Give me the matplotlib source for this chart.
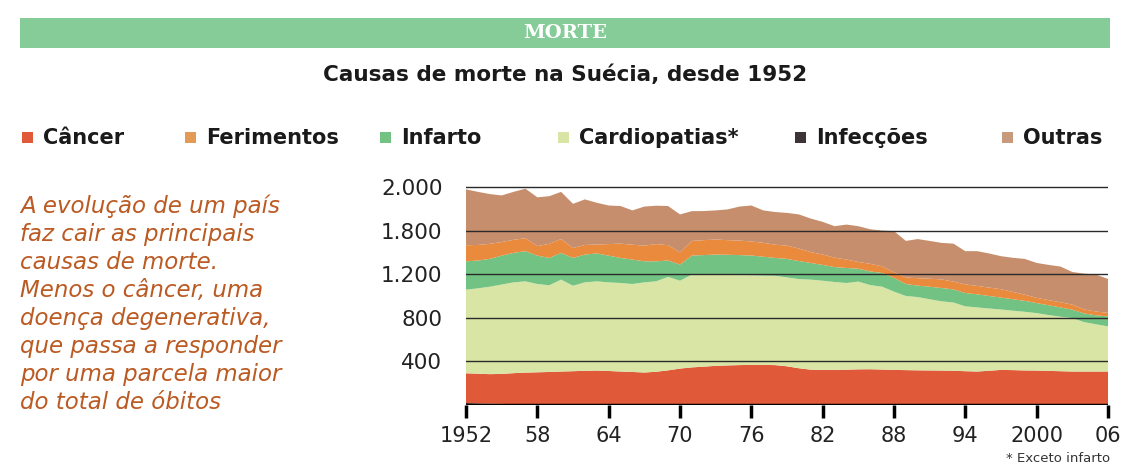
import matplotlib
matplotlib.use("Agg")
import matplotlib.pyplot as plt
import matplotlib.patches as patches

# === Data (deaths, cumulative top of each band) ===
years = list(range(1952, 2007))

infeccoes_top = [18, 15, 12, 10, 8, 7, 6, 5, 5, 5, 4, 4, 4, 4, 4, 4, 4, 4, 4, 4,
                 4, 4, 4, 4, 4, 4, 4, 4, 4, 4, 4, 4, 4, 4, 4, 4, 4, 4, 4, 4,
                 4, 4, 4, 4, 4, 4, 4, 4, 4, 4, 4, 4, 4, 4, 4]
cancer_top = [291, 287, 283, 285, 292, 297, 300, 303, 307, 310, 314, 316, 312, 307,
              303, 298, 305, 318, 334, 345, 352, 359, 363, 366, 368, 368, 366, 355,
              337, 324, 322, 322, 324, 327, 328, 325, 322, 320, 318, 317, 316, 314,
              310, 307, 314, 322, 320, 317, 316, 313, 310, 307, 307, 307, 307]
cardiopatias_top = [1058, 1070, 1085, 1105, 1125, 1134, 1110, 1098, 1150, 1094, 1125,
                    1134, 1125, 1119, 1110, 1125, 1135, 1175, 1140, 1196, 1196, 1196,
                    1198, 1195, 1190, 1187, 1185, 1170, 1155, 1150, 1140, 1128, 1119,
                    1132, 1100, 1085, 1040, 1000, 990, 970, 951, 940, 905, 895, 885,
                    876, 865, 855, 843, 825, 810, 797, 760, 740, 721]
infarto_top = [1318, 1325, 1340, 1370, 1395, 1411, 1370, 1349, 1395, 1349, 1380, 1390,
               1370, 1349, 1334, 1318, 1318, 1325, 1288, 1371, 1375, 1380, 1378, 1375,
               1371, 1360, 1349, 1340, 1320, 1303, 1285, 1265, 1257, 1250, 1225, 1211,
               1165, 1110, 1095, 1085, 1073, 1060, 1027, 1015, 1000, 985, 970, 955,
               935, 915, 895, 874, 840, 822, 813]
ferimentos_top = [1465, 1468, 1478, 1495, 1515, 1530, 1458, 1478, 1522, 1440, 1468,
                  1472, 1476, 1480, 1470, 1462, 1476, 1466, 1400, 1505, 1512, 1518,
                  1512, 1508, 1500, 1488, 1470, 1462, 1435, 1402, 1380, 1352, 1334,
                  1312, 1295, 1272, 1218, 1170, 1163, 1158, 1152, 1132, 1106, 1092,
                  1077, 1062, 1037, 1012, 983, 962, 942, 921, 877, 857, 845]
outras_top = [1978, 1955, 1935, 1922, 1955, 1984, 1905, 1915, 1955, 1845, 1886, 1855,
              1830, 1825, 1785, 1820, 1828, 1825, 1748, 1778, 1779, 1785, 1794, 1820,
              1830, 1785, 1770, 1762, 1748, 1710, 1680, 1640, 1655, 1640, 1612, 1600,
              1595, 1505, 1522, 1505, 1487, 1480, 1411, 1411, 1390, 1365, 1350, 1340,
              1303, 1285, 1270, 1220, 1205, 1196, 1156]

legend_names = ["Câncer", "Ferimentos", "Infarto", "Cardiopatias*", "Infecções", "Outras"]
yticks = [400, 800, 1200, 1600, 2000]
ytick_labels = ["400", "800", "1.200", "1.800", "2.000"]
xticks = [1952, 1958, 1964, 1970, 1976, 1982, 1988, 1994, 2000, 2006]
xtick_labels = ["1952", "58", "64", "70", "76", "82", "88", "94", "2000", "06"]

note = ("A evolução de um país\nfaz cair as principais\ncausas de morte.\n"
        "Menos o câncer, uma\ndoença degenerativa,\nque passa a responder\n"
        "por uma parcela maior\ndo total de óbitos")

# === Colors ===
c_inf = "#3d302b"
c_can = "#e05a3a"
c_card = "#d9e5a5"
c_infarto = "#72c283"
c_fer = "#ea8a3c"
c_out = "#c68e6c"

fig = plt.figure(figsize=(11.26, 4.66), dpi=100)
W, H = 1126, 466

def fx(px):
    return px / W

def fy(py):
    return 1 - py / H

# banner
fig.patches.append(patches.Rectangle((fx(20), fy(48)), fx(1110) - fx(20), fy(18) - fy(48),
                                     transform=fig.transFigure, facecolor="#86cc98",
                                     edgecolor="none"))
fig.text(fx(565), fy(33), "MORTE", ha="center", va="center", color="white",
         fontsize=14, fontweight="bold", family="DejaVu Serif")

fig.text(fx(565), fy(75), "Causas de morte na Suécia, desde 1952", ha="center",
         va="center", fontsize=15.5, fontweight="bold", family="DejaVu Sans", color="#1a1a1a")

# legend row
leg_colors = [c_can, "#e39a55", c_infarto, c_card, "#3d3535", "#c69a7a"]
leg_sq_x = [22, 185, 380, 558, 795, 1002]
for name, col, sx in zip(legend_names, leg_colors, leg_sq_x):
    fig.patches.append(patches.Rectangle((fx(sx), fy(143)), fx(11), fy(132) - fy(143),
                                         transform=fig.transFigure, facecolor=col,
                                         edgecolor="none"))
    fig.text(fx(sx + 21), fy(138), name, ha="left", va="center", fontsize=15,
             fontweight="bold", family="DejaVu Sans", color="#1a1a1a")

# side note
fig.text(fx(20), fy(194), note, ha="left", va="top", fontsize=16.5, style="italic",
         family="DejaVu Sans", color="#bb5a22", linespacing=1.28)

fig.text(fx(1110), fy(458), "* Exceto infarto", ha="right", va="center", fontsize=9.5,
         family="DejaVu Sans", color="#333333")

# === Chart ===
ax = fig.add_axes([fx(466), fy(405), fx(1108) - fx(466), fy(181.5) - fy(405)])
zero = [0] * len(years)
bands = [(zero, infeccoes_top, c_inf), (infeccoes_top, cancer_top, c_can),
         (cancer_top, cardiopatias_top, c_card), (cardiopatias_top, infarto_top, c_infarto),
         (infarto_top, ferimentos_top, c_fer), (ferimentos_top, outras_top, c_out)]
for lo, hi, col in bands:
    ax.fill_between(years, lo, hi, facecolor=col, edgecolor="none", linewidth=0)

for t in yticks:
    ax.axhline(t, color="#2a2a2a", linewidth=1.0, zorder=3)
ax.axhline(0, color="black", linewidth=2.5, zorder=4)

ax.set_xlim(1952, 2006)
ax.set_ylim(0, 2050)
ax.set_yticks(yticks)
ax.set_yticklabels(ytick_labels)
ax.set_xticks(xticks)
ax.set_xticklabels(xtick_labels)
for s in ax.spines.values():
    s.set_visible(False)
ax.tick_params(axis="y", length=0, pad=17, labelsize=15.5, labelcolor="#222222")
ax.tick_params(axis="x", direction="out", length=9, width=2.5, color="black", pad=6,
               labelsize=15, labelcolor="#222222")

fig.savefig("out.png", dpi=100, facecolor="white")
